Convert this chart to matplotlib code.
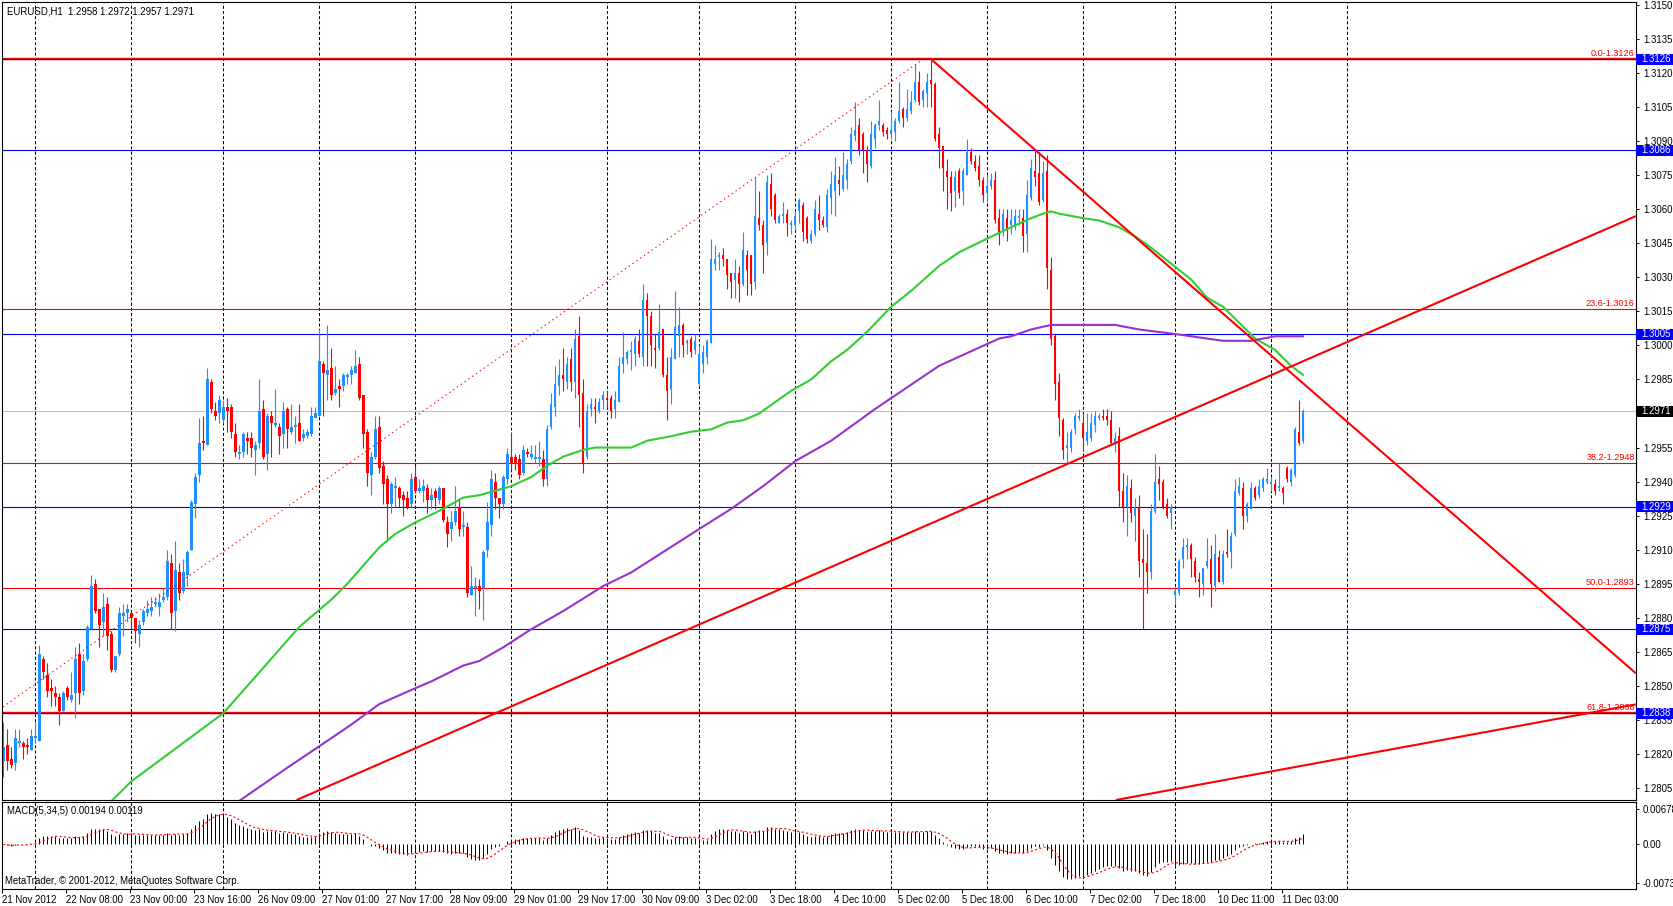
import numpy as np
import pandas as pd
import matplotlib
matplotlib.use("Agg")
import matplotlib.pyplot as plt
from matplotlib.patches import Rectangle

plt.rcParams['font.family'] = ['Liberation Sans', 'DejaVu Sans']

# EURUSD H1 candles, bar 0 = 21 Nov 2012 16:00, last bar = 11 Dec 2012 08:00
open_ = [
    1.2817, 1.2824, 1.2818, 1.2816, 1.2825, 1.2825, 1.2824, 1.2822, 1.2827, 1.2826,
    1.2862, 1.2855, 1.2849, 1.2847, 1.2845, 1.2839, 1.2849, 1.2844, 1.2847, 1.2864,
    1.2848, 1.2862, 1.2875, 1.2895, 1.2884, 1.2878, 1.2886, 1.2873, 1.2857, 1.2864,
    1.2881, 1.2882, 1.2882, 1.2880, 1.2873, 1.2878, 1.2882, 1.2883, 1.2886, 1.2885,
    1.2888, 1.2889, 1.2904, 1.2883, 1.2900, 1.2892, 1.2899, 1.2910, 1.2930, 1.2943,
    1.2958, 1.2956, 1.2984, 1.2971, 1.2970, 1.2967, 1.2973, 1.2973, 1.2961, 1.2952,
    1.2953, 1.2959, 1.2959, 1.2954, 1.2957, 1.2972, 1.2952, 1.2969, 1.2965, 1.2964,
    1.2961, 1.2972, 1.2962, 1.2964, 1.2966, 1.2959, 1.2960, 1.2961, 1.2968, 1.2969,
    1.2992, 1.2987, 1.2990, 1.2979, 1.2982, 1.2982, 1.2986, 1.2987, 1.2988, 1.2992,
    1.2978, 1.2962, 1.2943, 1.2951, 1.2964, 1.2947, 1.2941, 1.2930, 1.2937, 1.2937,
    1.2934, 1.2933, 1.2930, 1.2942, 1.2936, 1.2936, 1.2937, 1.2932, 1.2936, 1.2932,
    1.2937, 1.2922, 1.2919, 1.2922, 1.2929, 1.2920, 1.2920, 1.2890, 1.2893, 1.2894,
    1.2893, 1.2910, 1.2921, 1.2940, 1.2933, 1.2930, 1.2941, 1.2951, 1.2951, 1.2950,
    1.2944, 1.2953, 1.2951, 1.2950, 1.2950, 1.2950, 1.2941, 1.2964, 1.2973, 1.2982,
    1.2987, 1.2984, 1.2994, 1.2984, 1.3004, 1.2979, 1.2951, 1.2972, 1.2973, 1.2971,
    1.2976, 1.2977, 1.2977, 1.2972, 1.2975, 1.2992, 1.2994, 1.2997, 1.2996, 1.3002,
    1.2995, 1.3020, 1.3013, 1.2999, 1.2999, 1.3007, 1.2987, 1.2981, 1.2994, 1.3004,
    1.3009, 1.3001, 1.3003, 1.2998, 1.2983, 1.2992, 1.2995, 1.3001, 1.3036, 1.3039,
    1.3040, 1.3038, 1.3032, 1.3029, 1.3032, 1.3027, 1.3040, 1.3040, 1.3028, 1.3056,
    1.3053, 1.3045, 1.3071, 1.3066, 1.3054, 1.3057, 1.3058, 1.3053, 1.3053, 1.3059,
    1.3062, 1.3056, 1.3046, 1.3049, 1.3058, 1.3055, 1.3052, 1.3065, 1.3068, 1.3073,
    1.3069, 1.3073, 1.3081, 1.3092, 1.3097, 1.3093, 1.3086, 1.3079, 1.3091, 1.3097,
    1.3097, 1.3095, 1.3093, 1.3094, 1.3099, 1.3104, 1.3100, 1.3103, 1.3108, 1.3116,
    1.3108, 1.3111, 1.3117, 1.3115, 1.3093, 1.3088, 1.3077, 1.3074, 1.3068, 1.3077,
    1.3068, 1.3075, 1.3085, 1.3081, 1.3079, 1.3073, 1.3067, 1.3070, 1.3073, 1.3056,
    1.3051, 1.3056, 1.3053, 1.3053, 1.3056, 1.3056, 1.3049, 1.3065, 1.3077, 1.3076,
    1.3064, 1.3077, 1.3033, 1.3004, 1.2984, 1.2967, 1.2955, 1.2955, 1.2963, 1.2968,
    1.2966, 1.2958, 1.2959, 1.2965, 1.2968, 1.2969, 1.2969, 1.2967, 1.2957, 1.2960,
    1.2936, 1.2929, 1.2937, 1.2925, 1.2929, 1.2906, 1.2904, 1.2900, 1.2927, 1.2941,
    1.2940, 1.2930, 1.2926, 1.2890, 1.2891, 1.2906, 1.2911, 1.2912, 1.2905, 1.2897,
    1.2895, 1.2903, 1.2906, 1.2894, 1.2907, 1.2896, 1.2909, 1.2909, 1.2917, 1.2935,
    1.2937, 1.2925, 1.2928, 1.2937, 1.2934, 1.2937, 1.2940, 1.2939, 1.2939, 1.2937,
    1.2937, 1.2946, 1.2940, 1.2943, 1.2962, 1.2958,
]
high = [
    1.2834, 1.2831, 1.2823, 1.2831, 1.2831, 1.2826, 1.2827, 1.2831, 1.2834, 1.2868,
    1.2863, 1.2860, 1.2853, 1.2850, 1.2847, 1.2848, 1.2850, 1.2856, 1.2867, 1.2869,
    1.2864, 1.2877, 1.2899, 1.2897, 1.2884, 1.2891, 1.2889, 1.2874, 1.2863, 1.2885,
    1.2886, 1.2886, 1.2883, 1.2880, 1.2879, 1.2884, 1.2888, 1.2889, 1.2889, 1.2891,
    1.2893, 1.2910, 1.2908, 1.2914, 1.2904, 1.2906, 1.2910, 1.2932, 1.2944, 1.2968,
    1.2969, 1.2990, 1.2985, 1.2975, 1.2978, 1.2976, 1.2977, 1.2974, 1.2966, 1.2956,
    1.2962, 1.2962, 1.2962, 1.2958, 1.2985, 1.2976, 1.2970, 1.2971, 1.2981, 1.2966,
    1.2975, 1.2973, 1.2974, 1.2969, 1.2974, 1.2963, 1.2963, 1.2973, 1.2973, 1.3007,
    1.2993, 1.3009, 1.2999, 1.2991, 1.2985, 1.2988, 1.2988, 1.2991, 1.2998, 1.2995,
    1.2978, 1.2963, 1.2953, 1.2969, 1.2969, 1.2949, 1.2943, 1.2940, 1.2942, 1.2938,
    1.2936, 1.2936, 1.2944, 1.2947, 1.2941, 1.2941, 1.2939, 1.2937, 1.2937, 1.2938,
    1.2937, 1.2925, 1.2927, 1.2938, 1.2933, 1.2927, 1.2922, 1.2903, 1.2898, 1.2897,
    1.2910, 1.2931, 1.2945, 1.2944, 1.2933, 1.2943, 1.2955, 1.2962, 1.2952, 1.2952,
    1.2956, 1.2955, 1.2956, 1.2956, 1.2958, 1.2954, 1.2965, 1.2979, 1.2991, 1.2994,
    1.2999, 1.2995, 1.2999, 1.3007, 1.3013, 1.2985, 1.2974, 1.2977, 1.2977, 1.2977,
    1.2980, 1.2980, 1.2978, 1.2980, 1.2995, 1.3006, 1.2998, 1.3002, 1.3004, 1.3007,
    1.3027, 1.3023, 1.3015, 1.3005, 1.3018, 1.3007, 1.2995, 1.2999, 1.3024, 1.3017,
    1.3010, 1.3003, 1.3004, 1.3005, 1.3000, 1.3000, 1.3003, 1.3047, 1.3044, 1.3041,
    1.3043, 1.3038, 1.3032, 1.3038, 1.3035, 1.3050, 1.3042, 1.3040, 1.3074, 1.3068,
    1.3055, 1.3075, 1.3076, 1.3067, 1.3058, 1.3063, 1.3060, 1.3055, 1.3059, 1.3065,
    1.3063, 1.3057, 1.3051, 1.3064, 1.3066, 1.3057, 1.3069, 1.3077, 1.3083, 1.3079,
    1.3085, 1.3082, 1.3096, 1.3107, 1.3100, 1.3094, 1.3088, 1.3099, 1.3098, 1.3108,
    1.3098, 1.3096, 1.3103, 1.3100, 1.3116, 1.3105, 1.3113, 1.3112, 1.3124, 1.3121,
    1.3113, 1.3120, 1.3126, 1.3116, 1.3096, 1.3088, 1.3082, 1.3077, 1.3077, 1.3078,
    1.3078, 1.3091, 1.3087, 1.3084, 1.3084, 1.3074, 1.3075, 1.3076, 1.3077, 1.3060,
    1.3060, 1.3060, 1.3060, 1.3060, 1.3060, 1.3060, 1.3073, 1.3082, 1.3086, 1.3085,
    1.3081, 1.3084, 1.3039, 1.3005, 1.2988, 1.2968, 1.2962, 1.2963, 1.2970, 1.2972,
    1.2970, 1.2970, 1.2970, 1.2971, 1.2970, 1.2972, 1.2972, 1.2971, 1.2962, 1.2964,
    1.2944, 1.2943, 1.2941, 1.2933, 1.2934, 1.2919, 1.2917, 1.2930, 1.2952, 1.2947,
    1.2941, 1.2933, 1.2930, 1.2894, 1.2906, 1.2915, 1.2915, 1.2913, 1.2907, 1.2900,
    1.2902, 1.2915, 1.2912, 1.2917, 1.2910, 1.2910, 1.2919, 1.2918, 1.2941, 1.2942,
    1.2940, 1.2931, 1.2940, 1.2938, 1.2941, 1.2942, 1.2946, 1.2942, 1.2941, 1.2948,
    1.2938, 1.2947, 1.2946, 1.2964, 1.2976, 1.2972,
]
low = [
    1.2810, 1.2813, 1.2814, 1.2813, 1.2823, 1.2818, 1.2820, 1.2822, 1.2825, 1.2826,
    1.2853, 1.2845, 1.2841, 1.2841, 1.2833, 1.2839, 1.2844, 1.2843, 1.2836, 1.2842,
    1.2846, 1.2861, 1.2875, 1.2882, 1.2867, 1.2872, 1.2866, 1.2856, 1.2856, 1.2863,
    1.2872, 1.2878, 1.2875, 1.2869, 1.2867, 1.2877, 1.2881, 1.2881, 1.2885, 1.2881,
    1.2887, 1.2888, 1.2875, 1.2874, 1.2888, 1.2891, 1.2894, 1.2910, 1.2924, 1.2940,
    1.2954, 1.2956, 1.2970, 1.2967, 1.2966, 1.2966, 1.2962, 1.2959, 1.2951, 1.2950,
    1.2951, 1.2952, 1.2951, 1.2943, 1.2955, 1.2950, 1.2945, 1.2951, 1.2964, 1.2952,
    1.2955, 1.2955, 1.2961, 1.2957, 1.2958, 1.2958, 1.2959, 1.2960, 1.2968, 1.2969,
    1.2969, 1.2976, 1.2976, 1.2978, 1.2973, 1.2980, 1.2983, 1.2983, 1.2988, 1.2976,
    1.2955, 1.2938, 1.2934, 1.2950, 1.2944, 1.2930, 1.2914, 1.2926, 1.2929, 1.2929,
    1.2925, 1.2928, 1.2929, 1.2935, 1.2935, 1.2931, 1.2926, 1.2928, 1.2928, 1.2930,
    1.2922, 1.2911, 1.2914, 1.2921, 1.2916, 1.2916, 1.2889, 1.2890, 1.2881, 1.2884,
    1.2879, 1.2907, 1.2916, 1.2928, 1.2924, 1.2928, 1.2939, 1.2945, 1.2945, 1.2941,
    1.2943, 1.2951, 1.2950, 1.2948, 1.2947, 1.2938, 1.2938, 1.2963, 1.2969, 1.2978,
    1.2980, 1.2981, 1.2980, 1.2977, 1.2964, 1.2944, 1.2950, 1.2969, 1.2966, 1.2970,
    1.2972, 1.2973, 1.2968, 1.2968, 1.2975, 1.2988, 1.2992, 1.2989, 1.2991, 1.2995,
    1.2991, 1.2991, 1.2991, 1.2990, 1.2998, 1.2986, 1.2967, 1.2974, 1.2994, 1.2995,
    1.2995, 1.2996, 1.2995, 1.2996, 1.2982, 1.2988, 1.2992, 1.3001, 1.3033, 1.3033,
    1.3035, 1.3025, 1.3021, 1.3021, 1.3019, 1.3026, 1.3022, 1.3022, 1.3025, 1.3051,
    1.3032, 1.3040, 1.3057, 1.3054, 1.3054, 1.3054, 1.3048, 1.3049, 1.3051, 1.3054,
    1.3046, 1.3045, 1.3045, 1.3048, 1.3051, 1.3052, 1.3050, 1.3058, 1.3057, 1.3066,
    1.3068, 1.3069, 1.3080, 1.3090, 1.3084, 1.3076, 1.3072, 1.3078, 1.3087, 1.3095,
    1.3092, 1.3091, 1.3091, 1.3090, 1.3098, 1.3096, 1.3099, 1.3102, 1.3107, 1.3106,
    1.3105, 1.3105, 1.3105, 1.3090, 1.3078, 1.3068, 1.3060, 1.3059, 1.3061, 1.3065,
    1.3062, 1.3075, 1.3080, 1.3077, 1.3070, 1.3063, 1.3063, 1.3069, 1.3054, 1.3044,
    1.3048, 1.3046, 1.3049, 1.3051, 1.3053, 1.3041, 1.3041, 1.3064, 1.3070, 1.3062,
    1.3063, 1.3025, 1.3000, 1.2976, 1.2960, 1.2950, 1.2948, 1.2953, 1.2961, 1.2967,
    1.2954, 1.2956, 1.2958, 1.2962, 1.2967, 1.2967, 1.2965, 1.2956, 1.2953, 1.2929,
    1.2922, 1.2916, 1.2922, 1.2914, 1.2898, 1.2875, 1.2891, 1.2897, 1.2926, 1.2932,
    1.2928, 1.2924, 1.2919, 1.2886, 1.2890, 1.2902, 1.2906, 1.2898, 1.2896, 1.2889,
    1.2890, 1.2902, 1.2885, 1.2892, 1.2896, 1.2895, 1.2907, 1.2902, 1.2916, 1.2934,
    1.2919, 1.2922, 1.2928, 1.2932, 1.2933, 1.2936, 1.2939, 1.2936, 1.2934, 1.2936,
    1.2930, 1.2940, 1.2938, 1.2942, 1.2956, 1.2957,
]
close = [
    1.2823, 1.2817, 1.2815, 1.2827, 1.2826, 1.2823, 1.2823, 1.2828, 1.2828, 1.2864,
    1.2856, 1.2848, 1.2848, 1.2845, 1.2839, 1.2847, 1.2845, 1.2846, 1.2862, 1.2847,
    1.2861, 1.2876, 1.2894, 1.2883, 1.2877, 1.2885, 1.2872, 1.2857, 1.2863, 1.2882,
    1.2882, 1.2884, 1.2880, 1.2874, 1.2877, 1.2883, 1.2884, 1.2885, 1.2887, 1.2887,
    1.2889, 1.2905, 1.2882, 1.2901, 1.2891, 1.2900, 1.2909, 1.2931, 1.2942, 1.2957,
    1.2957, 1.2985, 1.2972, 1.2969, 1.2976, 1.2973, 1.2971, 1.2962, 1.2953, 1.2953,
    1.2961, 1.2958, 1.2955, 1.2956, 1.2971, 1.2951, 1.2969, 1.2966, 1.2966, 1.2960,
    1.2971, 1.2963, 1.2964, 1.2965, 1.2958, 1.2961, 1.2962, 1.2969, 1.2970, 1.2993,
    1.2988, 1.2989, 1.2978, 1.2981, 1.2981, 1.2987, 1.2987, 1.2989, 1.2991, 1.2977,
    1.2961, 1.2944, 1.2951, 1.2963, 1.2946, 1.2939, 1.2930, 1.2939, 1.2938, 1.2933,
    1.2932, 1.2929, 1.2941, 1.2936, 1.2937, 1.2938, 1.2932, 1.2934, 1.2933, 1.2937,
    1.2923, 1.2917, 1.2922, 1.2927, 1.2919, 1.2921, 1.2891, 1.2894, 1.2894, 1.2892,
    1.2909, 1.2922, 1.2941, 1.2933, 1.2930, 1.2942, 1.2952, 1.2948, 1.2948, 1.2943,
    1.2954, 1.2952, 1.2952, 1.2951, 1.2951, 1.2941, 1.2963, 1.2974, 1.2983, 1.2987,
    1.2985, 1.2992, 1.2984, 1.3003, 1.2978, 1.2948, 1.2971, 1.2974, 1.2972, 1.2975,
    1.2978, 1.2976, 1.2971, 1.2976, 1.2991, 1.2995, 1.2997, 1.2998, 1.3003, 1.2996,
    1.3020, 1.3013, 1.3000, 1.2998, 1.3006, 1.2987, 1.2980, 1.2995, 1.3008, 1.3009,
    1.3000, 1.3002, 1.2997, 1.3002, 1.2996, 1.2997, 1.3002, 1.3038, 1.3038, 1.3040,
    1.3038, 1.3031, 1.3028, 1.3032, 1.3027, 1.3042, 1.3033, 1.3027, 1.3057, 1.3053,
    1.3044, 1.3072, 1.3060, 1.3055, 1.3057, 1.3058, 1.3054, 1.3054, 1.3057, 1.3064,
    1.3050, 1.3047, 1.3049, 1.3060, 1.3055, 1.3053, 1.3066, 1.3071, 1.3075, 1.3071,
    1.3075, 1.3080, 1.3093, 1.3095, 1.3086, 1.3086, 1.3080, 1.3093, 1.3097, 1.3099,
    1.3094, 1.3093, 1.3095, 1.3099, 1.3103, 1.3100, 1.3104, 1.3107, 1.3116, 1.3107,
    1.3112, 1.3116, 1.3115, 1.3091, 1.3087, 1.3078, 1.3074, 1.3067, 1.3074, 1.3067,
    1.3077, 1.3085, 1.3081, 1.3078, 1.3073, 1.3066, 1.3070, 1.3073, 1.3055, 1.3050,
    1.3058, 1.3051, 1.3055, 1.3057, 1.3057, 1.3048, 1.3066, 1.3078, 1.3074, 1.3063,
    1.3076, 1.3034, 1.3003, 1.2983, 1.2968, 1.2954, 1.2956, 1.2962, 1.2969, 1.2969,
    1.2959, 1.2962, 1.2966, 1.2969, 1.2969, 1.2968, 1.2967, 1.2957, 1.2959, 1.2936,
    1.2929, 1.2938, 1.2926, 1.2929, 1.2905, 1.2904, 1.2900, 1.2927, 1.2940, 1.2939,
    1.2929, 1.2925, 1.2929, 1.2892, 1.2905, 1.2911, 1.2912, 1.2906, 1.2898, 1.2896,
    1.2902, 1.2905, 1.2895, 1.2908, 1.2896, 1.2908, 1.2908, 1.2916, 1.2936, 1.2938,
    1.2925, 1.2930, 1.2937, 1.2933, 1.2938, 1.2941, 1.2941, 1.2940, 1.2936, 1.2938,
    1.2935, 1.2941, 1.2945, 1.2963, 1.2957, 1.2971,
]

# moving averages (bar index, price)
ma_green_bar = [24, 32, 55, 65, 74, 82, 86, 94, 98, 103, 110, 115, 119, 123, 127,
                132, 136, 140, 145, 148, 152, 157, 161, 167, 172, 177, 181, 185, 189,
                193, 197, 202, 207, 211, 216, 222, 227, 234, 239, 246, 252, 257, 260,
                262, 264, 270, 274, 279, 283, 287, 292, 297, 301, 305, 313, 318, 322, 325]
ma_green_val = [1.2794, 1.2808, 1.2838, 1.2858, 1.2876, 1.2888, 1.2895, 1.2911, 1.2917,
                1.2922, 1.2928, 1.2933, 1.2934, 1.2936, 1.2938, 1.2942, 1.2947, 1.2951,
                1.2954, 1.2955, 1.2955, 1.2955, 1.2958, 1.2960, 1.2962, 1.2963, 1.2966,
                1.2967, 1.2970, 1.2975, 1.2980, 1.2985, 1.2993, 1.2998, 1.3006, 1.3017,
                1.3024, 1.3035, 1.3041, 1.3047, 1.3052, 1.3056, 1.3058, 1.3059, 1.3058,
                1.3056, 1.3055, 1.3052, 1.3048, 1.3043, 1.3036, 1.3029, 1.3021, 1.3017,
                1.3003, 1.2998, 1.2991, 1.2987]
ma_purple_bar = [57, 71, 82, 87, 94, 103, 107, 115, 119, 125, 132, 140, 150, 157, 165,
                 173, 182, 190, 198, 207, 218, 234, 249, 252, 257, 262, 270, 278, 284,
                 293, 305, 312, 318, 325]
ma_purple_val = [1.2797, 1.2814, 1.2827, 1.2833, 1.2842, 1.2849, 1.2852, 1.2859, 1.2861,
                 1.2867, 1.2875, 1.2883, 1.2894, 1.2900, 1.2909, 1.2918, 1.2928, 1.2938,
                 1.2949, 1.2958, 1.2972, 1.2991, 1.3003, 1.3004, 1.3007, 1.3009, 1.3009,
                 1.3009, 1.3007, 1.3005, 1.3002, 1.3002, 1.3004, 1.3004]

# horizontal levels
blue_levels = [1.3126, 1.3086, 1.3005, 1.2929, 1.2875, 1.2838]
fib_pcts = ["0.0", "23.6", "38.2", "50.0", "61.8"]
fib_levels = [1.3126, 1.3016, 1.2948, 1.2893, 1.2838]
bid = 1.2971

# trend lines: (bar, price) anchor pairs
fib_base = [(-146, 1.2660), (230, 1.3126)]
down_line = [(232, 1.3126), (408.2, 1.28556)]
up_line = [(73.35, 1.27998), (408.2, 1.30569)]
low_line = [(278.2, 1.27998), (408.2, 1.28419)]

time_labels = ["21 Nov 2012", "22 Nov 08:00", "23 Nov 00:00", "23 Nov 16:00", "26 Nov 09:00",
               "27 Nov 01:00", "27 Nov 17:00", "28 Nov 09:00", "29 Nov 01:00", "29 Nov 17:00",
               "30 Nov 09:00", "3 Dec 02:00", "3 Dec 18:00", "4 Dec 10:00", "5 Dec 02:00",
               "5 Dec 18:00", "6 Dec 10:00", "7 Dec 02:00", "7 Dec 18:00", "10 Dec 11:00",
               "11 Dec 03:00"]
time_bars = [0, 16, 32, 48, 64, 80, 96, 112, 128, 144, 160, 176, 192, 208, 224, 240,
             256, 272, 288, 304, 320]
grid_bars = [8, 32, 55, 79, 103, 127, 151, 174, 198, 222, 246, 270, 293, 317, 336]

BULL = '#1E90FF'
BEAR = '#FF0000'
FS = 6.9

W, H = 1674, 906
fig = plt.figure(figsize=(W / 100, H / 100), dpi=100)
fig.patch.set_facecolor('white')

ax = fig.add_axes([2 / W, 1 - 800 / H, 1634 / W, 798 / H])
ax2 = fig.add_axes([2 / W, 1 - 889 / H, 1634 / W, 87 / H])

o = np.array(open_)
h = np.array(high)
l = np.array(low)
c = np.array(close)
x = np.arange(len(c))

xmin, xmax = -0.325, 408.25
ymin, ymax = 1.27998, 1.31512
for a in (ax, ax2):
    a.set_xlim(xmin, xmax)
    for s in a.spines.values():
        s.set_color('black')
        s.set_linewidth(0.8)
    for g in grid_bars:
        a.axvline(g, color='black', lw=0.75, ls=(0, (3, 2)), zorder=0.5)
ax.set_ylim(ymin, ymax)

# horizontal lines
for lv in fib_levels:
    big = lv in blue_levels
    ax.axhline(lv, color='red', lw=1.7 if big else 0.8, zorder=1.2)
for lv in blue_levels:
    ax.axhline(lv, color='#0000FF', lw=0.8, zorder=1.3)
ax.axhline(bid, color='#C0C0C0', lw=0.8, zorder=1.1)

# candles
up = c >= o
cols = np.where(up, BULL, BEAR)
ax.vlines(x, l, h, colors=cols, lw=0.8, zorder=2)
body = np.abs(c - o)
minb = 0.00004
bot = np.where(body < minb, (o + c) / 2 - minb / 2, np.minimum(o, c))
ax.bar(x, np.maximum(body, minb), bottom=bot, width=0.65, color=cols,
       linewidth=0, zorder=2)

# moving averages
ax.plot(ma_green_bar, ma_green_val, color='#32CD32', lw=1.5, zorder=3)
ax.plot(ma_purple_bar, ma_purple_val, color='#9932CC', lw=1.5, zorder=3)

# trend lines
(fx0, fy0), (fx1, fy1) = fib_base
ax.plot([fx0, fx1], [fy0, fy1], color='red', lw=0.8, ls=(0, (1.2, 3)), zorder=3.5)
for ln in (down_line, up_line, low_line):
    (x0, y0), (x1, y1) = ln
    ax.plot([x0, x1], [y0, y1], color='red', lw=1.5, zorder=4, solid_capstyle='butt')

# fib level labels
px_y = (ymax - ymin) / 798.0
for p, lv in zip(fib_pcts, fib_levels):
    ax.text(0.9992, lv + 1.5 * px_y, f"{p}-{lv:.4f}", transform=ax.get_yaxis_transform(),
            ha='right', va='bottom', color='red', fontsize=FS - 0.3, zorder=5)

# right price scale
yt = np.round(np.arange(1.2805, 1.31501, 0.0015), 4)
ax.set_yticks(yt)
ax.set_yticklabels([f"{v:.4f}" for v in yt])
ax.yaxis.tick_right()
ax.tick_params(axis='y', direction='out', length=2.5, width=0.7, pad=3,
               labelsize=FS, colors='black')
ax.set_xticks([])

# price tags
tag_w = 38 / 1634
for lv, fc in [(v, '#0000FF') for v in blue_levels] + [(bid, 'black')]:
    ax.add_patch(Rectangle((1.0, lv - 5.5 * px_y), tag_w, 11 * px_y,
                           transform=ax.get_yaxis_transform(), facecolor=fc,
                           edgecolor='none', clip_on=False, zorder=9))
    ax.text(1.0 + 5 / 1634, lv, f"{lv:.4f}", transform=ax.get_yaxis_transform(),
            ha='left', va='center', color='white', fontsize=FS, clip_on=False, zorder=10)

# MACD(5,34,5)
def ema(v, n):
    k = 2.0 / (n + 1)
    out = np.empty_like(v)
    out[0] = v[0]
    for i in range(1, len(v)):
        out[i] = v[i] * k + out[i - 1] * (1 - k)
    return out

macd = ema(c, 5) - ema(c, 34)
signal = pd.Series(macd).rolling(5, min_periods=1).mean().values
ax2.vlines(x, 0, macd, colors='black', lw=0.7, zorder=2)
ax2.plot(x, signal, color='red', lw=0.8, ls=(0, (2, 2)), zorder=3)
ax2.set_ylim(-0.0086, 0.0082)
ax2.set_yticks([0.00678, 0.0, -0.00738])
ax2.set_yticklabels(["0.00678", "0.00", "-0.00738"])
ax2.yaxis.tick_right()
ax2.tick_params(axis='y', direction='out', length=2.5, width=0.7, pad=2,
                labelsize=FS, colors='black')
ax2.set_xticks([b - 0.25 for b in time_bars])
ax2.set_xticklabels(time_labels, ha='left')
ax2.tick_params(axis='x', direction='out', length=3, width=0.7, pad=1.5,
                labelsize=FS, colors='black')

fig.text(7 / W, 1 - 11.5 / H, "EURUSD,H1  1.2958 1.2972 1.2957 1.2971",
         va='center', ha='left', fontsize=FS)
fig.text(7.5 / W, 1 - 811.5 / H, "MACD(5,34,5) 0.00194 0.00119",
         va='center', ha='left', fontsize=FS)
fig.text(5 / W, 1 - 881.5 / H, "MetaTrader, \u00a9 2001-2012, MetaQuotes Software Corp.",
         va='center', ha='left', fontsize=FS)

fig.savefig("out.png", dpi=100, facecolor='white')
